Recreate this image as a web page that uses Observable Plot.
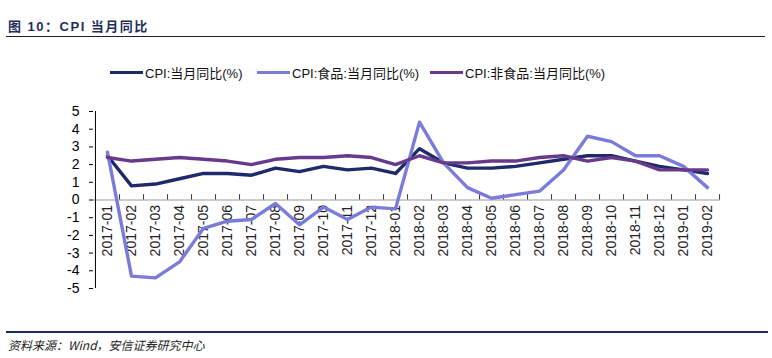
<!DOCTYPE html>
<html>
<head>
<meta charset="utf-8">
<script src="https://cdn.jsdelivr.net/npm/d3@7"></script>
<script src="https://cdn.jsdelivr.net/npm/@observablehq/plot@0.6"></script>
<style>
  html, body { margin: 0; padding: 0; background: #fff; }
  #page { position: relative; width: 772px; height: 358px; overflow: hidden; background: #fff; font-family: "Liberation Sans", Arial, "Noto Sans CJK SC", sans-serif; }
  #title { position: absolute; left: 8px; top: 16px; font-size: 13px; font-weight: bold; color: #1f2d5a; letter-spacing: 1.5px; font-family: "Liberation Sans", Arial, "Noto Sans CJK SC", sans-serif; white-space: nowrap; }
  #topline { position: absolute; left: 6px; top: 36px; width: 759px; height: 1px; background: #1a1f33; }
  #legend { position: absolute; left: 110px; top: 63px; height: 18px; font-size: 13px; color: #111; white-space: nowrap; }
  .item { position: absolute; top: 0; display: flex; align-items: center; height: 18px; }
  .swatch { display: inline-block; width: 33px; height: 3px; margin-right: 2px; }
  #chart { position: absolute; left: 0; top: 100px; }
  #bottomline { position: absolute; left: 6px; top: 331px; width: 762px; height: 2px; background: #1f2a5c; }
  #source { position: absolute; left: 8px; top: 336px; font-size: 12px; font-style: italic; color: #222; font-family: "Noto Sans CJK SC", sans-serif; white-space: nowrap; }
</style>
</head>
<body>
<div id="page">
  <div id="title">图 10：CPI 当月同比</div>
  <div id="topline"></div>
  <div id="legend"></div>
  <div id="chart"></div>
  <div id="bottomline"></div>
  <div id="source">资料来源：Wind，安信证券研究中心</div>
</div>
<script>
const months = ["2017-01","2017-02","2017-03","2017-04","2017-05","2017-06","2017-07","2017-08","2017-09","2017-10","2017-11","2017-12",
  "2018-01","2018-02","2018-03","2018-04","2018-05","2018-06","2018-07","2018-08","2018-09","2018-10","2018-11","2018-12",
  "2019-01","2019-02"];
const cpi     = [2.5, 0.8, 0.9, 1.2, 1.5, 1.5, 1.4, 1.8, 1.6, 1.9, 1.7, 1.8, 1.5, 2.9, 2.1, 1.8, 1.8, 1.9, 2.1, 2.3, 2.5, 2.5, 2.2, 1.9, 1.7, 1.5];
const food    = [2.7, -4.3, -4.4, -3.5, -1.6, -1.2, -1.1, -0.2, -1.4, -0.4, -1.1, -0.4, -0.5, 4.4, 2.1, 0.7, 0.1, 0.3, 0.5, 1.7, 3.6, 3.3, 2.5, 2.5, 1.9, 0.7];
const nonfood = [2.4, 2.2, 2.3, 2.4, 2.3, 2.2, 2.0, 2.3, 2.4, 2.4, 2.5, 2.4, 2.0, 2.5, 2.1, 2.1, 2.2, 2.2, 2.4, 2.5, 2.2, 2.4, 2.2, 1.7, 1.7, 1.7];
const seriesNames = ["CPI:当月同比(%)", "CPI:食品:当月同比(%)", "CPI:非食品:当月同比(%)"];
const seriesColors = ["#1f2a6b", "#7b7bdb", "#683a8c"];
const yTicks = [-5, -4, -3, -2, -1, 0, 1, 2, 3, 4, 5];

const seriesValues = [cpi, food, nonfood];
const rows = [];
seriesValues.forEach((vals, s) => vals.forEach((v, i) => rows.push({month: months[i], value: v, series: seriesNames[s]})));

const W = 772, ML = 93, MR = 52;
const step = (W - ML - MR) / months.length;

const chart = Plot.plot({
  width: W,
  height: 200,
  marginLeft: ML,
  marginRight: MR,
  marginTop: 11,
  marginBottom: 12,
  style: {background: "transparent", fontFamily: "'Liberation Sans', Arial, sans-serif", fontSize: "14px", color: "#000"},
  x: {type: "point", domain: months, padding: 0.5, axis: null},
  y: {domain: [-5, 5], ticks: yTicks, tickFormat: d => String(d), tickSize: 4, tickPadding: 10, label: null},
  color: {domain: seriesNames, range: seriesColors},
  marks: [
    Plot.ruleY([0], {stroke: "#999", strokeWidth: 1.2}),
    Plot.ruleX([months[0]], {x: d => d, y1: yTicks[0], y2: yTicks[yTicks.length - 1], dx: -step / 2, stroke: "#000", strokeWidth: 1}),
    Plot.ruleX(months, {x: d => d, y1: 0, y2: 0.3, dx: step / 2, stroke: "#333", strokeWidth: 1}),
    Plot.text(months, {x: d => d, y: () => 0, text: d => d, rotate: -90, textAnchor: "end", dy: 5, fontSize: 14, fill: "#222"}),
    Plot.line(rows, {x: "month", y: "value", z: "series", stroke: "series", strokeWidth: 3.4, strokeLinejoin: "round"})
  ]
});
document.getElementById("chart").appendChild(chart);

const legend = document.getElementById("legend");
const offsets = [0, 147, 320];
seriesNames.forEach((name, i) => {
  const item = document.createElement("div");
  item.className = "item";
  item.style.left = offsets[i] + "px";
  const sw = document.createElement("span");
  sw.className = "swatch";
  sw.style.background = seriesColors[i];
  const label = document.createElement("span");
  label.textContent = name;
  item.appendChild(sw);
  item.appendChild(label);
  legend.appendChild(item);
});
</script>
</body>
</html>
